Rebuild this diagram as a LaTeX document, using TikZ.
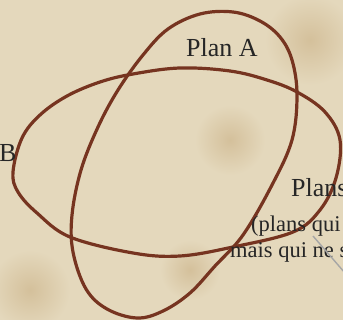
\documentclass[tikz,border=0pt]{standalone}
\usepackage{fontspec}
\setmainfont{Liberation Serif}
\definecolor{parch}{RGB}{228,216,188}
\definecolor{stain}{RGB}{212,192,155}
\definecolor{ink}{RGB}{118,52,32}
\tikzset{
  loopline/.style={draw=ink, line width=3.2pt, line join=round},
  lbl/.style={inner sep=0pt, anchor=base west, text=black!85, font=\fontsize{26}{28}\selectfont},
  lblsmall/.style={lbl, font=\fontsize{22.5}{24}\selectfont},
  pointer/.style={draw=gray!70, line width=1.4pt},
  blot/.style={inner color=stain, outer color=parch}
}
\begin{document}
\begin{tikzpicture}[x=1pt,y=-1pt]
\clip (0,0) rectangle (343,320);
\fill[parch] (0,0) rectangle (343,320);
% soft stains
\shade[blot] (310,40) circle (45pt);
\shade[blot] (30,290) circle (40pt);
\shade[blot] (190,270) circle (30pt);
\shade[blot] (230,140) circle (35pt);
% horizontal loop
\draw[loopline] plot[smooth cycle, tension=0.6] coordinates {
 (13,172) (22,138) (40,115) (67,96) (100,82) (133,74) (180,68) (230,71)
 (267,80) (297,92) (325,112) (340,140) (336,178) (320,210) (293,232)
 (233,247) (180,256) (133,253) (70,237) (37,213) (18,192)};
% slanted loop
\draw[loopline] plot[smooth cycle, tension=0.6] coordinates {
 (233,12) (260,21) (280,37) (292,60) (297,95) (292,140) (272,185)
 (243,235) (215,266) (190,293) (163,311) (137,318) (107,309) (86,289)
 (73,252) (72,215) (81,170) (98,127) (118,90) (143,55) (168,29) (200,14)};
% labels
\node[lbl] (planA) at (186,57) {Plan A};
\node[lbl] (planB) at (-1,162) {B};
\node[lbl] (plans) at (291,197) {Plans};
\node[lblsmall] (paren) at (251,232) {(plans qui};
\node[lblsmall] (mais) at (230,258) {mais qui ne s};
% pointer line
\coordinate (p1) at (313,236);
\coordinate (p2) at (345,273);
\draw[pointer] (p1) -- (p2);
\end{tikzpicture}
\end{document}
